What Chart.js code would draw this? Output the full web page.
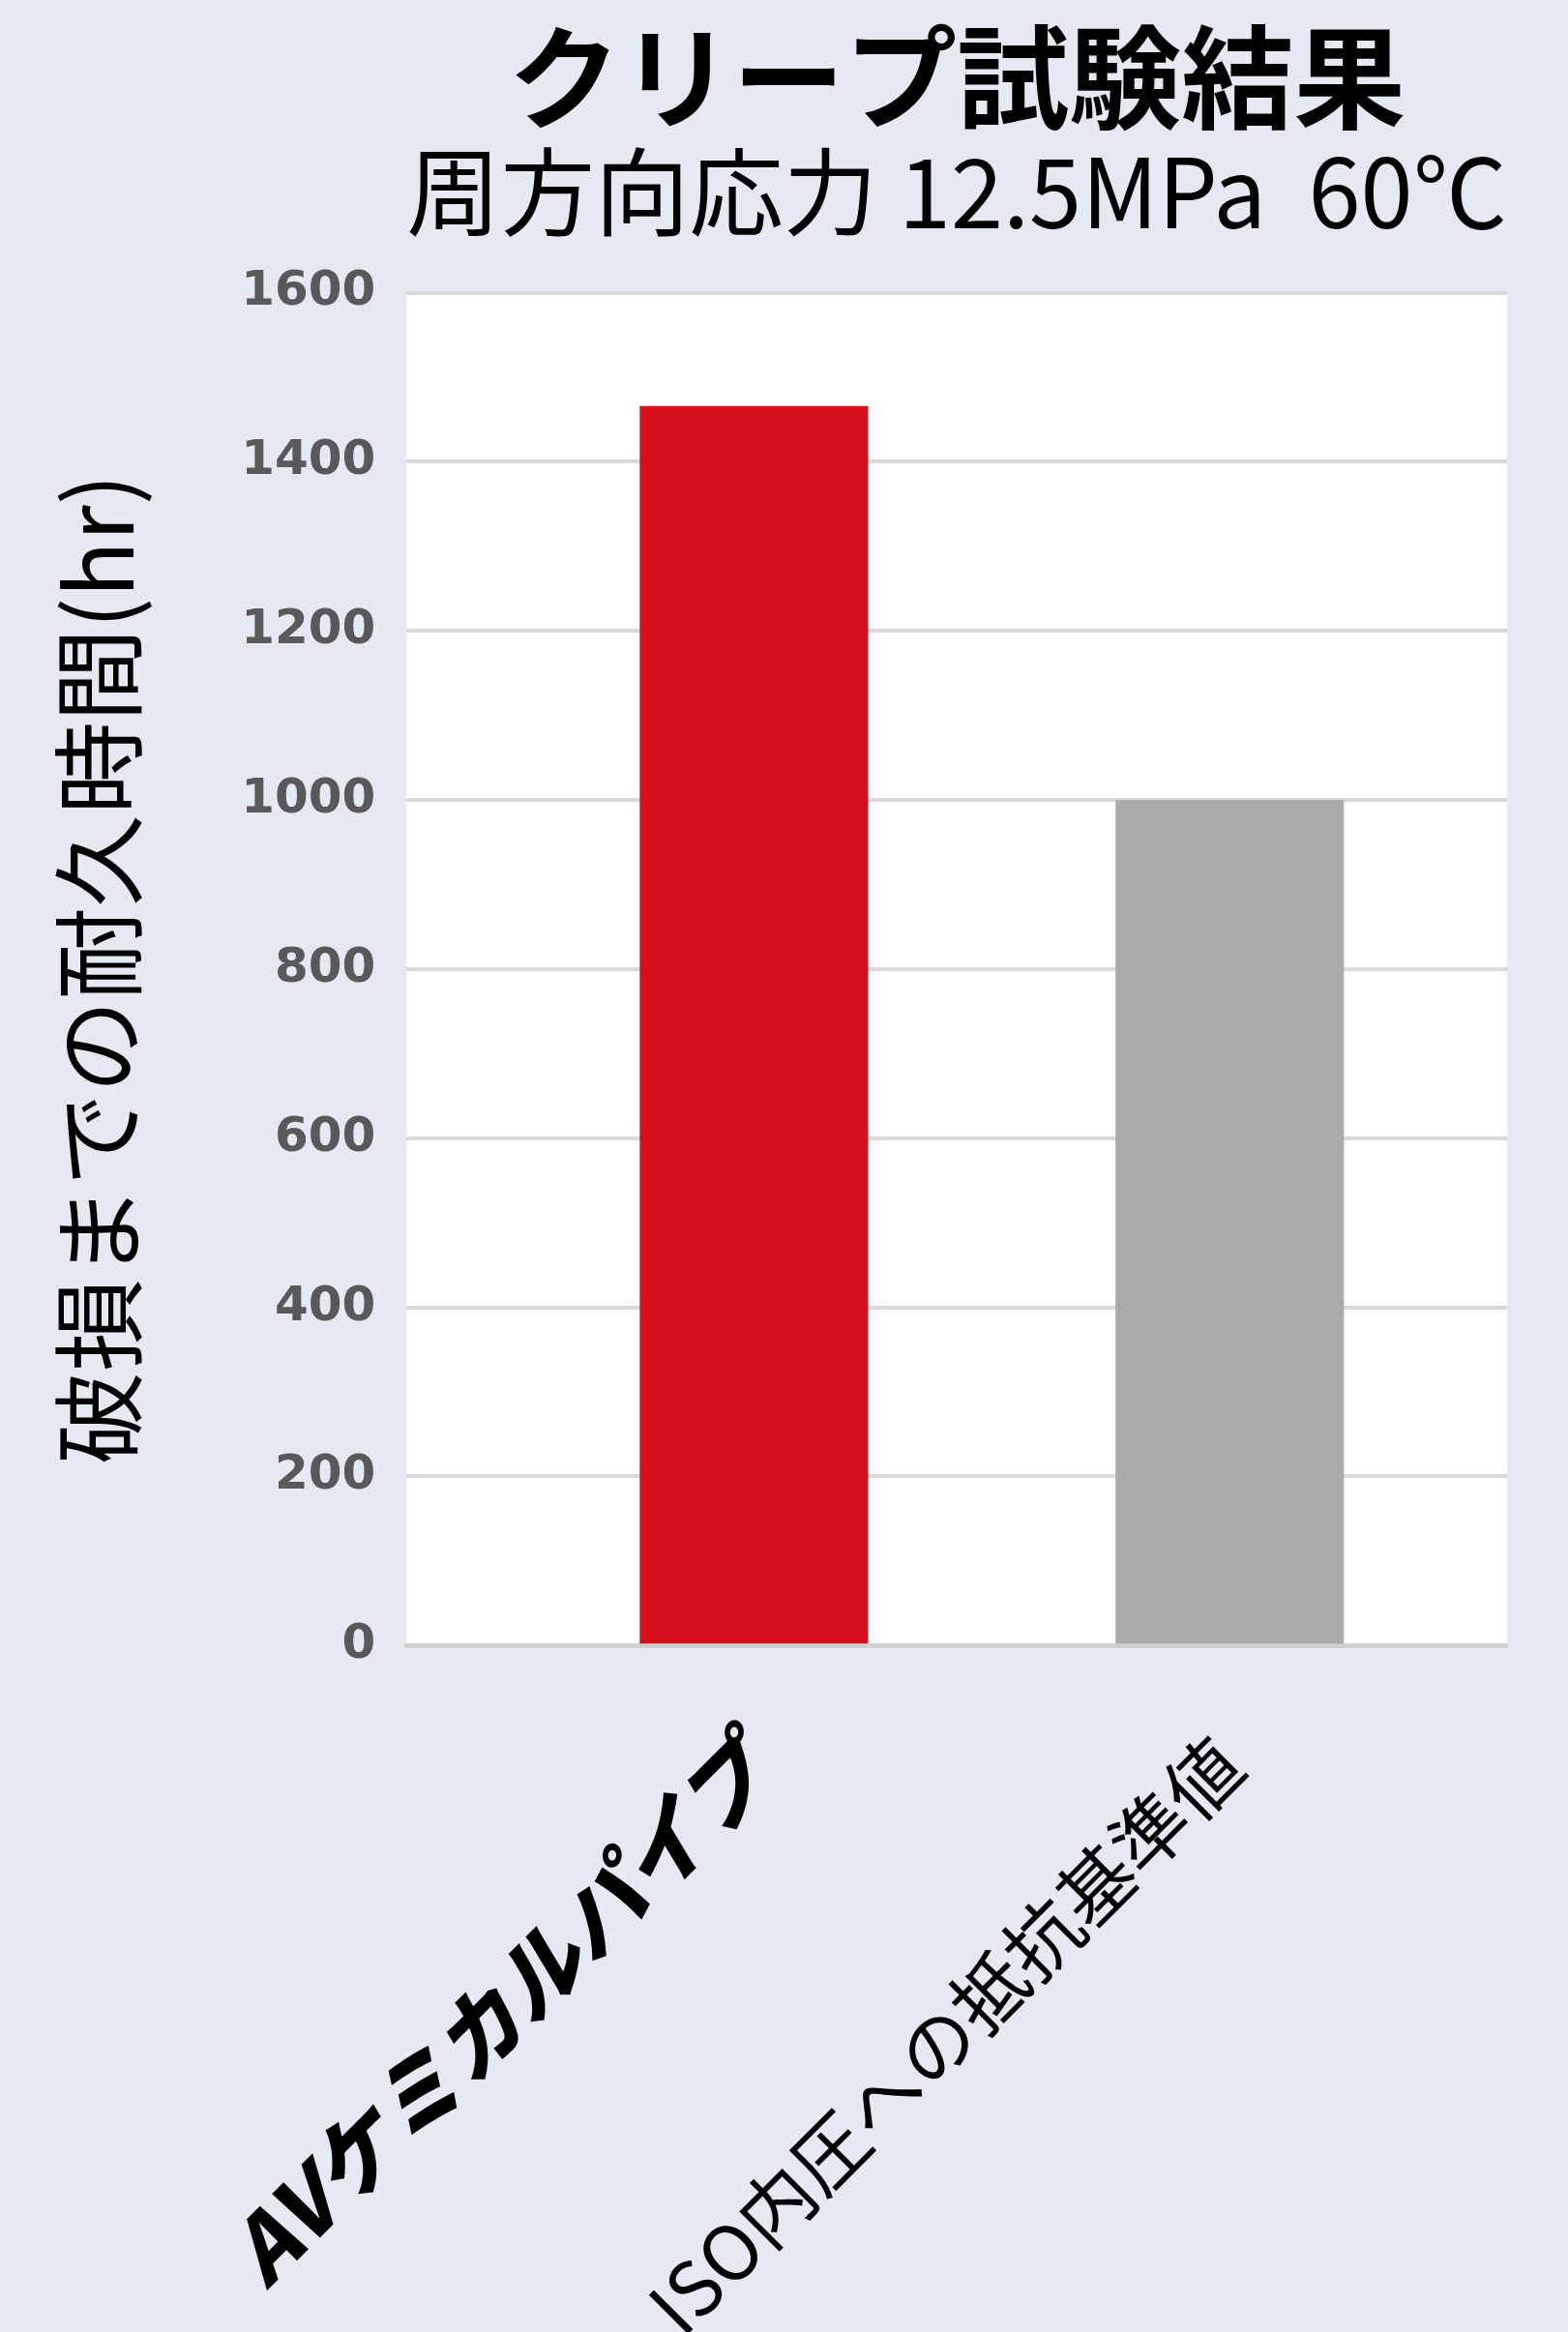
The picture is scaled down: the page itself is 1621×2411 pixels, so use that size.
<!DOCTYPE html>
<html><head><meta charset="utf-8">
<script src="https://cdn.jsdelivr.net/npm/chart.js@4"></script>
<style>
html,body{margin:0;padding:0;background:#E4E9F2;}
#wrap{width:1621px;height:2411px;}
</style></head>
<body><div id="wrap"><canvas id="c" width="1621" height="2411"></canvas></div>
<script>
const titleText = 'クリープ試験結果';
const subtitleText = '周方向応力 12.5MPa  60℃';
const yAxisTitle = '破損までの耐久時間(hr)';
const categories = ['AVケミカルパイプ', 'ISO内圧への抵抗基準値'];
const values = [1466, 1000];
const barColors = ['#D7111B', '#ABA9A9'];
const yTicks = [0, 200, 400, 600, 800, 1000, 1200, 1400, 1600];

const plotBg = {
  id: 'plotBg',
  beforeDraw(chart) {
    const a = chart.chartArea, ctx = chart.ctx;
    ctx.save(); ctx.fillStyle = '#FFFFFF';
    ctx.fillRect(a.left, a.top, a.right - a.left, a.bottom - a.top);
    ctx.restore();
  }
};

new Chart(document.getElementById('c'), {
  type: 'bar',
  data: {
    datasets: [{
      data: values.map((v, i) => ({x: i, y: v})),
      backgroundColor: barColors,
      borderWidth: 0,
      categoryPercentage: 1,
      barPercentage: 0.48
    }]
  },
  plugins: [plotBg],
  options: {
    responsive: false,
    animation: false,
    devicePixelRatio: 1,
    layout: {padding: {left: 40, right: 63, top: 10, bottom: -107}},
    plugins: {
      legend: {display: false},
      tooltip: {enabled: false},
      title: {
        display: true, text: titleText, fullSize: false, color: '#000',
        font: {family: '"Noto Sans CJK JP"', size: 116, weight: 'bold', lineHeight: 1.1},
        padding: {top: 6, bottom: 0}
      },
      subtitle: {
        display: true, text: subtitleText, fullSize: false, color: '#000',
        font: {family: '"Noto Sans CJK JP"', size: 99, weight: 'normal', lineHeight: 1.1},
        padding: {top: 0, bottom: 50}
      }
    },
    scales: {
      x: {
        type: 'linear',
        offset: false,
        min: -0.73, max: 1.583,
        grid: {display: false, drawTicks: false, offset: false},
        border: {display: true, color: '#D0D0D0', width: 5},
        afterBuildTicks: s => { s.ticks = categories.map((c, i) => ({value: i})); },
        ticks: {
          autoSkip: false, maxRotation: 45, minRotation: 45, padding: 77,
          color: '#000',
          callback: v => categories[v],
          font: ctx => ctx.index === 0
            ? {family: '"Noto Sans CJK JP"', size: 90, weight: '900', style: 'italic'}
            : {family: '"Noto Sans CJK JP"', size: 78, weight: 'normal'}
        }
      },
      y: {
        min: 0, max: 1600,
        afterBuildTicks: s => { s.ticks = yTicks.map(v => ({value: v})); },
        grid: {color: '#D9D9D9', lineWidth: 4, drawTicks: false},
        border: {display: false},
        ticks: {
          color: '#595959', padding: 32,
          callback: v => String(v),
          font: {family: '"DejaVu Sans"', size: 50, weight: 'bold'}
        },
        title: {
          display: true, text: yAxisTitle, color: '#000',
          font: {family: '"Noto Sans CJK JP"', size: 96, weight: 'normal'},
          padding: {top: 4, bottom: 58}
        }
      }
    }
  }
});
</script></body></html>
